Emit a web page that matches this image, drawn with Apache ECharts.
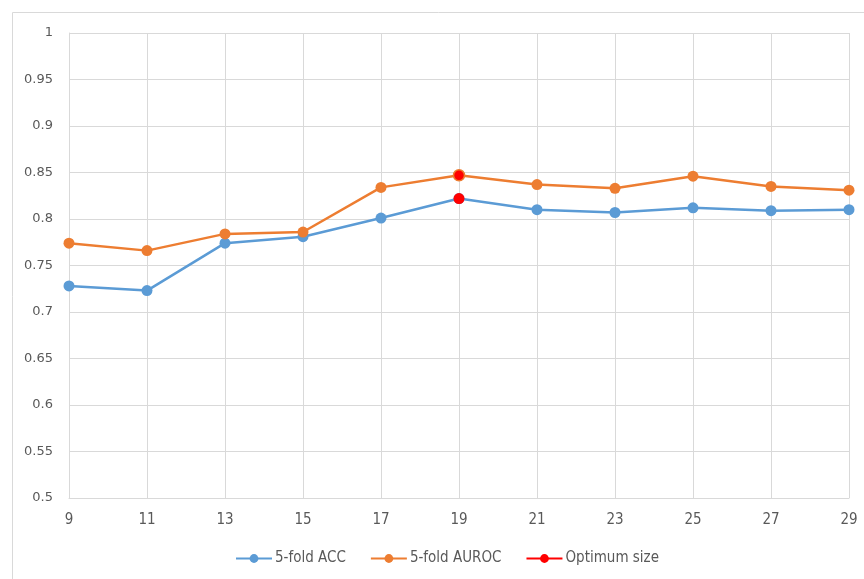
<!DOCTYPE html>
<html><head><meta charset="utf-8">
<script src="https://cdn.jsdelivr.net/npm/echarts@6/dist/echarts.min.js"></script>
<style>html,body{margin:0;padding:0;background:#fff}#c{width:864px;height:579px}</style>
</head><body><div id="c"></div>
<script>
const sizes = ['9','11','13','15','17','19','21','23','25','27','29'];
const acc   = [0.728,0.723,0.774,0.781,0.801,0.822,0.810,0.807,0.812,0.809,0.810];
const auroc = [0.774,0.766,0.784,0.786,0.834,0.847,0.837,0.833,0.846,0.835,0.831];
const optimumSize = '19';
const optAcc = sizes.map((s,i)=> s===optimumSize ? acc[i] : '-');
const optAuroc = sizes.map((s,i)=> s===optimumSize ? {value:auroc[i],itemStyle:{borderColor:'#ED7D31',borderWidth:1.5}} : '-');
const yTicks = [0.5,0.55,0.6,0.65,0.7,0.75,0.8,0.85,0.9,0.95,1];

const font = '"DejaVu Sans",sans-serif';
const narrow = '"DejaVu Sans Condensed","Liberation Sans",sans-serif';
const chart = echarts.init(document.getElementById('c'));
chart.setOption({
  animation:false,
  textStyle:{fontFamily:font},
  graphic:[{type:'rect',shape:{x:12.5,y:12.5,width:900,height:600},style:{fill:'none',stroke:'#d9d9d9',lineWidth:1},silent:true}],
  grid:{left:69,right:15,top:33,bottom:81},
  legend:{top:546,left:230,itemWidth:36,itemHeight:11,itemGap:24,
    textStyle:{color:'#595959',fontSize:15,fontFamily:narrow,padding:[0,0,0,-2]},
    data:['5-fold ACC','5-fold AUROC','Optimum size']},
  xAxis:{type:'category',data:sizes,boundaryGap:false,
    axisLine:{lineStyle:{color:'#d9d9d9'}},axisTick:{show:false},
    splitLine:{show:true,lineStyle:{color:'#d9d9d9'}},
    axisLabel:{color:'#595959',fontSize:15,margin:15,fontFamily:narrow}},
  yAxis:{type:'value',min:0.5,max:1,interval:0.05,
    axisLine:{show:true,lineStyle:{color:'#d9d9d9'}},
    splitLine:{lineStyle:{color:'#d9d9d9'}},
    axisLabel:{color:'#595959',fontSize:13,margin:16,fontFamily:font,
      formatter:v=>{const t=yTicks.find(x=>Math.abs(x-v)<1e-9);return t===undefined?'':String(t);}}},
  series:[
    {name:'5-fold ACC',type:'line',data:acc,symbol:'circle',symbolSize:11,
      lineStyle:{color:'#5B9BD5',width:2.5},itemStyle:{color:'#5B9BD5'}},
    {name:'5-fold AUROC',type:'line',data:auroc,symbol:'circle',symbolSize:11,
      lineStyle:{color:'#ED7D31',width:2.5},itemStyle:{color:'#ED7D31'}},
    {name:'Optimum size',type:'line',data:optAuroc,symbol:'circle',symbolSize:11,
      lineStyle:{color:'#FF0000',width:2.5},itemStyle:{color:'#FF0000'},z:5},
    {name:'Optimum size',type:'line',data:optAcc,symbol:'circle',symbolSize:11,
      lineStyle:{color:'#FF0000',width:2.5},itemStyle:{color:'#FF0000'},z:5}
  ]
});
</script></body></html>
